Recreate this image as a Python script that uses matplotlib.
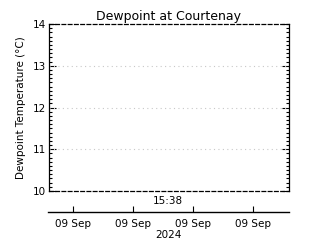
import numpy as np
import matplotlib
matplotlib.use('Agg')
import matplotlib.pyplot as plt
from matplotlib.ticker import MultipleLocator

# chart text and axis values
title = 'Dewpoint at Courtenay'
ylabel = 'Dewpoint Temperature (°C)'
y_min, y_max = 10, 14
y_ticks = [10, 11, 12, 13, 14]
time_label = '15:38'
date_ticks = [0.41, 1.41, 2.41, 3.41]
date_labels = ['09 Sep', '09 Sep', '09 Sep', '09 Sep']
year_label = '2024'

W, H = 320, 240
fig = plt.figure(figsize=(W / 100, H / 100), dpi=100)
fs = 7.5

# main plot box
ax = fig.add_axes([49 / W, 1 - 191 / H, 240 / W, 167 / H])
ax.set_xlim(0, 4)
ax.set_ylim(y_min, y_max)
ax.set_yticks(y_ticks)
ax.yaxis.set_minor_locator(MultipleLocator(0.1))
ax.set_xticks([])
ax.tick_params(axis='y', which='major', direction='in', length=5, width=0.8,
               left=True, right=True, labelsize=fs, pad=2)
ax.tick_params(axis='y', which='minor', direction='in', length=2.5, width=0.8,
               left=True, right=True)
for y in y_ticks[1:-1]:
    ax.axhline(y, color='#c8c8c8', lw=0.8, ls=(0, (1, 3)))
for s in ['top', 'bottom']:
    ax.spines[s].set_linestyle((0, (3, 2)))
for s in ax.spines.values():
    s.set_linewidth(0.9)
ax.set_title(title, fontsize=9, pad=3)
ax.set_ylabel(ylabel, fontsize=fs, labelpad=5)

fig.text(168 / W, 1 - 201 / H, time_label, fontsize=fs, ha='center', va='center')

# date axis below
ax2 = fig.add_axes([48 / W, 1 - 212 / H, 241 / W, 0.0001])
ax2.set_xlim(0, 4)
ax2.set_yticks([])
for s in ['top', 'left', 'right']:
    ax2.spines[s].set_visible(False)
ax2.spines['bottom'].set_linewidth(1.0)
ax2.set_xticks(date_ticks)
ax2.set_xticklabels(date_labels)
ax2.tick_params(axis='x', direction='in', length=4, width=0.8, labelsize=fs, pad=5)
fig.text(168 / W, 1 - 235 / H, year_label, fontsize=fs, ha='center', va='center')

fig.savefig('out.png', dpi=100)
